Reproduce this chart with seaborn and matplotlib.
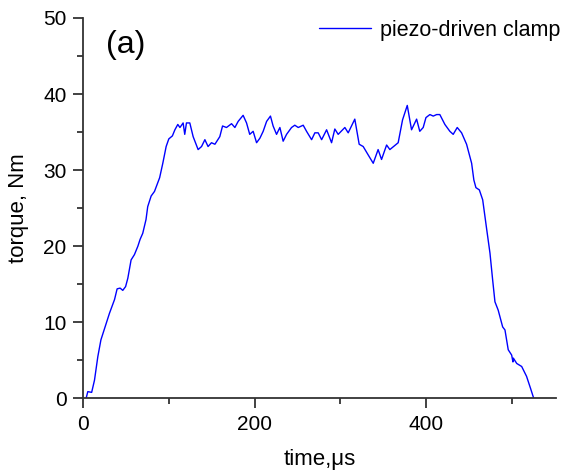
import matplotlib
matplotlib.use("Agg")
import matplotlib.pyplot as plt
import seaborn as sns
import pandas as pd
from matplotlib.ticker import MultipleLocator

time_us = [3.5, 5.5, 10, 13.3, 17.2, 20.8, 24.8, 30.8, 36.7, 39.7, 43.2, 46.3, 49.6, 52.2,
           56.0, 59.9, 63.9, 66.5, 69.6, 73.4, 75.4, 79.4, 83.3, 89.3, 93.0, 96.9, 100.0,
           104.2, 107.1, 110.5, 113.0, 116.7, 118.6, 120.6, 124.5, 128.4, 134.2, 138.2,
           142.1, 145.8, 149.8, 153.8, 159.5, 162.7, 167.3, 173.2, 177.1, 180.9, 186.7,
           190.7, 194.4, 198.4, 202.4, 206.3, 210.1, 214.1, 218.6, 221.7, 225.7, 229.6,
           233.4, 237.4, 243.2, 247.0, 251.0, 256.8, 260.7, 266.6, 270.4, 274.3, 278.3,
           284.1, 289.9, 293.7, 297.6, 305.4, 309.3, 317.0, 322.1, 326.8, 332.6, 338.5,
           344.2, 348.2, 354.1, 357.9, 367.6, 372.7, 378.2, 383.2, 389.1, 392.8, 396.8,
           400.0, 404.6, 408.5, 412.5, 416.2, 422.1, 427.9, 431.8, 436.5, 441.6, 447.4,
           453.3, 455.9, 458.3, 462.3, 466.2, 470.9, 474.7, 477.8, 480.5, 484.3, 489.5,
           492.2, 496.0, 500.0, 501.5, 502.0, 505.9, 511.7, 517.4, 522.1, 525.8]
torque_nm = [0, 0.9, 0.8, 2.4, 5.5, 7.7, 9.1, 11.2, 13.0, 14.4, 14.5, 14.2, 14.7, 15.8,
             18.2, 18.9, 20.0, 20.9, 21.7, 23.5, 25.2, 26.6, 27.2, 29.0, 30.9, 33.1, 34.1,
             34.5, 35.3, 36.0, 35.6, 36.2, 34.7, 36.2, 36.2, 34.4, 32.7, 33.1,
             34.0, 33.1, 33.6, 33.4, 34.4, 35.8, 35.6, 36.1, 35.6, 36.4, 37.2,
             36.2, 34.7, 35.1, 33.6, 34.2, 35.1, 36.4, 37.1, 35.8, 34.7, 35.6,
             33.8, 34.7, 35.6, 35.9, 35.6, 35.9, 35.1, 34.0, 34.9, 34.9, 34.0,
             35.3, 33.6, 35.4, 34.7, 35.6, 34.9, 36.7, 33.4, 33.1, 32.0, 30.9,
             32.7, 31.4, 33.3, 32.7, 33.6, 36.6, 38.5, 35.3, 36.7, 35.1, 35.6,
             36.9, 37.3, 37.1, 37.3, 37.3, 36.0, 35.1, 34.7, 35.6, 34.9, 33.4,
             30.9, 28.7, 27.7, 27.4, 26.1, 22.2, 19.1, 15.6, 12.7, 11.6, 9.4,
             9.0, 6.4, 5.7, 4.8, 5.3, 4.6, 4.2, 2.9, 1.3, 0]

sns.set_style("ticks")
plt.rcParams['font.family'] = ['Liberation Sans', 'DejaVu Sans']
plt.rcParams['text.color'] = 'black'
plt.rcParams['axes.labelcolor'] = 'black'
plt.rcParams['xtick.color'] = '#333333'
plt.rcParams['ytick.color'] = '#333333'

df = pd.DataFrame({"time": time_us, "torque": torque_nm})

fig = plt.figure(figsize=(5.77, 4.71), dpi=100)
ax = fig.add_axes([0.144, 0.154, 0.82, 0.808])
sns.lineplot(data=df, x="time", y="torque", ax=ax, color="#0000ff", linewidth=1.0,
             sort=False, estimator=None, label="piezo-driven clamp")

ax.set_xlim(0, 552)
ax.set_ylim(0, 50)
ax.xaxis.set_major_locator(MultipleLocator(200))
ax.xaxis.set_minor_locator(MultipleLocator(100))
ax.yaxis.set_major_locator(MultipleLocator(10))
ax.yaxis.set_minor_locator(MultipleLocator(5))
for s in ["top", "right"]:
    ax.spines[s].set_visible(False)
for s in ["left", "bottom"]:
    ax.spines[s].set_linewidth(1.3)
    ax.spines[s].set_color("#333333")
ax.tick_params(which="major", direction="out", length=7, width=1.3, color="#333333",
               labelsize=15, pad=5, labelcolor="black")
ax.tick_params(which="minor", direction="out", length=4, width=1.3, color="#333333")

ax.set_xlabel("time,\u03bcs", fontsize=16, labelpad=11, color="black")
ax.set_ylabel("torque, Nm", fontsize=16, labelpad=10, color="black")

ax.text(0.048, 0.93, "(a)", transform=ax.transAxes, fontsize=23, va="center", ha="left",
        color="black")

leg = ax.legend(loc="center left", bbox_to_anchor=(0.553, 0.936), bbox_transform=fig.transFigure,
                frameon=False, fontsize=15.5, handlelength=2.4, handletextpad=0.45, borderpad=0,
                borderaxespad=0, labelcolor="black")

fig.savefig("out.png", dpi=100)
